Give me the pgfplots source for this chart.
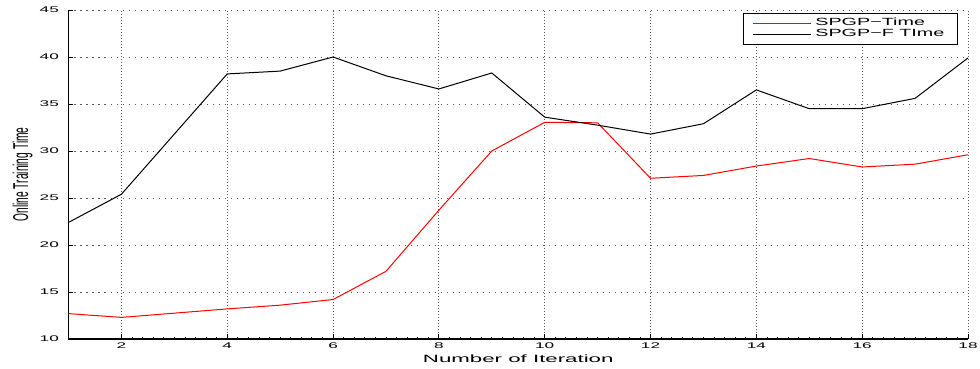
\documentclass[border=0pt]{standalone}
\usepackage{fontspec}
\setmainfont{Liberation Sans}
% the source figure is stretched horizontally, so the horizontal text is too
\newfontfamily\wide[FakeStretch=2.1]{Liberation Sans}
\newfontfamily\legwide[FakeStretch=1.9]{Liberation Sans}
\usepackage{graphicx}
\usepackage{pgfplots}
\usepackage{pgfplotstable}
\pgfplotsset{compat=1.18}

\pgfplotstableread{
iter  spgpf  spgp
1     22.4   12.7
2     25.4   12.3
3     31.8   12.75
4     38.2   13.2
5     38.5   13.6
6     40.0   14.2
7     38.0   17.2
8     36.6   23.7
9     38.3   30.0
10    33.6   33.05
11    32.75  33.0
12    31.8   27.1
13    32.9   27.4
14    36.5   28.4
15    34.5   29.2
16    34.5   28.3
17    35.6   28.6
18    39.9   29.6
}\timedata

\begin{document}
\begin{tikzpicture}
\begin{axis}[
    at={(0,0)}, anchor=south west,
    scale only axis,
    width=449.75pt, height=164.5pt,
    xmin=1, xmax=18, ymin=10, ymax=45,
    xtick={2,4,...,18}, ytick={10,15,...,45},
    minor x tick num=9,
    axis x line=bottom, axis y line=left,
    axis line style={-, line width=0.6pt},
    tick align=inside,
    major tick length=2.5pt, minor tick length=1.2pt,
    every tick/.style={black, line width=0.4pt},
    grid=major,
    major x grid style={black!65, line width=0.4pt, dash pattern=on 0.4pt off 1.1pt},
    major y grid style={black!65, line width=0.4pt, dash pattern=on 0.6pt off 2.4pt},
    /pgf/number format/assume math mode=true,
    tick label style={font=\wide\fontsize{4.1}{5}\selectfont},
    xticklabel style={anchor=base, yshift=-5pt},
    yticklabel style={anchor=east, xshift=-1.3pt},
    xlabel={Number of Iteration},
    xlabel style={at={(axis description cs:0.5,0)}, anchor=base, yshift=-12pt,
        font=\wide\fontsize{5.3}{6}\selectfont},
    ylabel={\scalebox{1}[2.1]{Online Training Time}},
    ylabel style={at={(axis description cs:-0.0511,0.5)}, anchor=center, rotate=0,
        font=\fontsize{5.1}{6}\selectfont},
    legend style={at={(axis description cs:1,1)}, anchor=north east,
        xshift=-5pt, yshift=-1.5pt, draw=black, line width=0.6pt,
        font=\legwide\fontsize{5.2}{6}\selectfont,
        inner xsep=4.5pt, inner ysep=0.3pt, row sep=-3.6pt},
    legend cell align=left,
    legend image code/.code={\draw[#1] (0pt,0pt) -- (29pt,0pt);},
]
\addplot[red, line width=0.5pt] table[x=iter, y=spgp] {\timedata};
\addlegendentry{SPGP−Time}
\addplot[black, line width=0.5pt] table[x=iter, y=spgpf] {\timedata};
\addlegendentry{SPGP−F TIme}
\end{axis}
\pgfresetboundingbox
\path[use as bounding box] (-34.25pt,-15pt) rectangle (455.75pt,169.5pt);
\end{tikzpicture}
\end{document}
